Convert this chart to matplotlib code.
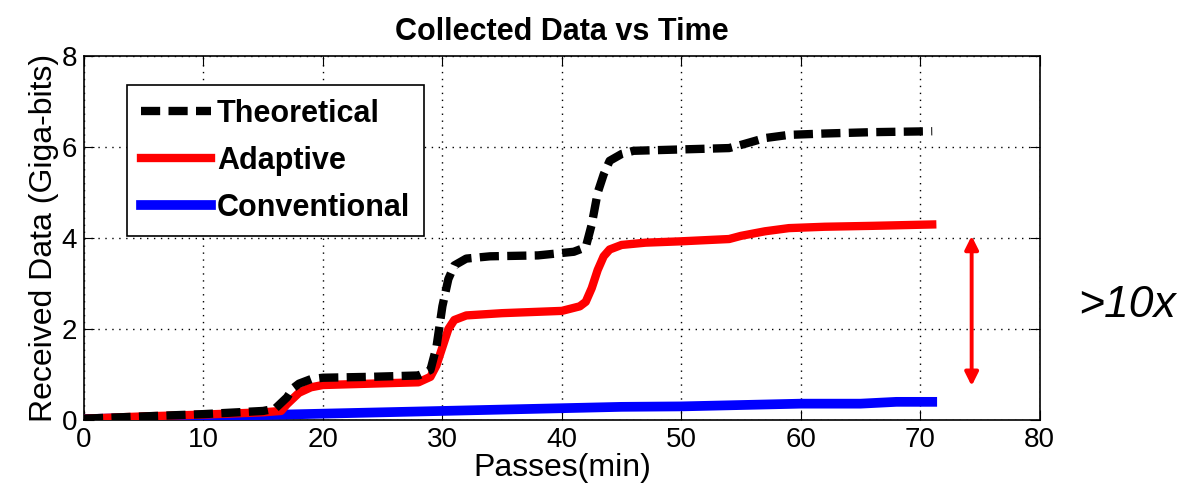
import matplotlib
matplotlib.use("Agg")
import matplotlib.pyplot as plt

plt.rcParams['font.family'] = ['Liberation Sans', 'DejaVu Sans']

title = "Collected Data vs Time"
xlabel = "Passes(min)"
ylabel = "Received Data (Giga-bits)"

theo_x = [0, 5, 10, 15, 16, 17, 17.5, 18, 19, 20, 24, 28, 29, 29.5, 30, 30.5, 31, 32, 34, 38, 41,
          42, 42.5, 43, 43.5, 44, 45, 46, 50, 54, 55, 57, 59, 62, 66, 71]
theo_y = [0.03, 0.08, 0.13, 0.2, 0.25, 0.5, 0.7, 0.8, 0.9, 0.93, 0.95, 0.98, 1.1, 1.6, 2.5, 3.1, 3.4,
          3.55, 3.6, 3.62, 3.7, 3.8, 4.3, 5.0, 5.4, 5.7, 5.85, 5.92, 5.95, 5.98, 6.05, 6.2, 6.27,
          6.3, 6.33, 6.35]

adap_x = [0, 5, 10, 15, 16.5, 17, 18, 19, 20, 24, 28, 29, 29.5, 30, 30.5, 31, 32, 35, 40, 41.5,
          42, 42.5, 43, 43.5, 44, 45, 47, 50, 54, 55, 57, 59, 62, 66, 71]
adap_y = [0.03, 0.08, 0.12, 0.17, 0.2, 0.35, 0.6, 0.72, 0.77, 0.8, 0.83, 0.95, 1.2, 1.6, 2.0, 2.2,
          2.3, 2.35, 2.4, 2.5, 2.6, 2.9, 3.3, 3.6, 3.75, 3.85, 3.9, 3.93, 3.98, 4.05, 4.15, 4.22,
          4.25, 4.27, 4.3]

conv_x = [0, 10, 20, 30, 40, 45, 50, 55, 60, 65, 68, 71]
conv_y = [0.02, 0.08, 0.14, 0.2, 0.26, 0.29, 0.3, 0.33, 0.36, 0.36, 0.4, 0.4]

series_names = ["Theoretical", "Adaptive", "Conventional"]
x_ticks = [0, 10, 20, 30, 40, 50, 60, 70, 80]
y_ticks = [0, 2, 4, 6, 8]

arrow_x = 74.3
arrow_y = [0.75, 4.05]
annot_text = ">10x"

fig = plt.figure(figsize=(11.91, 4.93), dpi=100)
ax = fig.add_axes([0.0705, 0.148, 0.8025, 0.738])

ax.plot(conv_x, conv_y, color='#0000ff', lw=7, label=series_names[2], zorder=3)
ax.plot(adap_x, adap_y, color='#ff0000', lw=6, label=series_names[1], zorder=4)
l_theo, = ax.plot(theo_x, theo_y, color='black', lw=6, label=series_names[0], zorder=5)
l_theo.set_dashes([2.3, 1.0])

ax.set_xlim(0, 80)
ax.set_ylim(0, 8)
ax.set_xticks(x_ticks)
ax.set_yticks(y_ticks)
ax.grid(True, color='black', linestyle=(0, (1, 4)), lw=1.0)
ax.tick_params(direction='in', top=True, right=True, length=7, labelsize=20, pad=5)
for sp in ax.spines.values():
    sp.set_linewidth(1.2)

ax.set_title(title, fontsize=22, fontweight='bold', pad=12)
ax.set_xlabel(xlabel, fontsize=23, labelpad=0)
ax.set_ylabel(ylabel, fontsize=23, labelpad=2)

handles, labels = ax.get_legend_handles_labels()
order = [2, 1, 0]
leg = ax.legend([handles[i] for i in order], [labels[i] for i in order],
                loc='upper left', bbox_to_anchor=(0.045, 0.92), borderaxespad=0,
                fancybox=False, edgecolor='black', framealpha=1,
                handlelength=2.3, handletextpad=0.2,
                labelspacing=0.55, borderpad=0.45,
                prop={'weight': 'bold', 'size': 22})
leg.get_frame().set_linewidth(1.2)

ax.annotate('', xy=(arrow_x, arrow_y[1]), xytext=(arrow_x, arrow_y[0]),
            arrowprops=dict(arrowstyle='<|-|>', color='#ff0000', lw=2.8,
                            mutation_scale=20, shrinkA=0, shrinkB=0),
            annotation_clip=False)

fig.text(0.946, 0.381, annot_text, fontsize=32, style='italic', ha='center', va='center')

fig.savefig('out.png', dpi=100)
